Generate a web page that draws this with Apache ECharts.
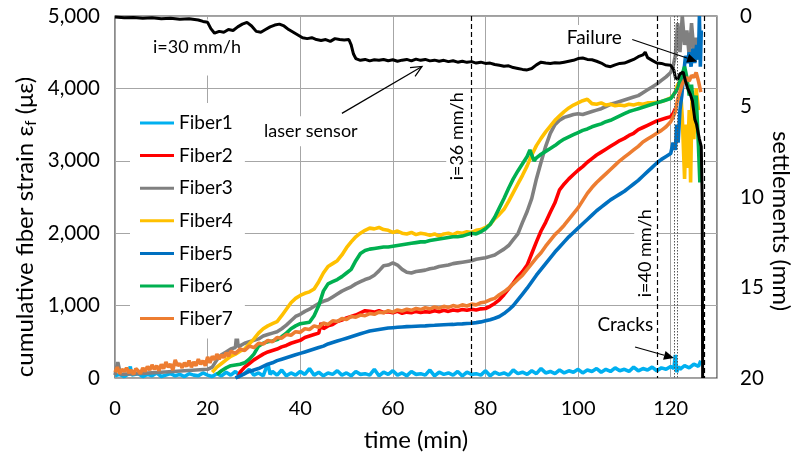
<!DOCTYPE html>
<html>
<head>
<meta charset="utf-8">
<script src="https://cdn.jsdelivr.net/npm/echarts@6/dist/echarts.min.js"></script>
<style>
  html, body { margin: 0; padding: 0; background: #fff; }
  #chart { width: 796px; height: 457px; }
</style>
</head>
<body>
<div id="chart"></div>
<script>
// ---- series names and colours ----
const fiberNames = ['Fiber1', 'Fiber2', 'Fiber3', 'Fiber4', 'Fiber5', 'Fiber6', 'Fiber7'];
const fiberColors = ['#00B0F0', '#FF0000', '#808080', '#FFC000', '#0070C0', '#00B050', '#ED7D31'];

// ---- axis ticks ----
const timeTicks = [0, 20, 40, 60, 80, 100, 120];
const strainTicks = [0, 1000, 2000, 3000, 4000, 5000];
const settlementTicks = [0, 5, 10, 15, 20];

// ---- cumulative fiber strain [time (min), strain (µε)] ----
const fiber1 = [[0,30],[1,50],[2,20],[3,60],[3.3,160],[3.6,40],[4,30],[5,60],[6,20],[7,50],[8,30],[9,70],[10,20],[11,40],[12,60],[13,30],[14,50],[15,20],[16,60],[17,40],[18,30],[19,70],[20,40],[21,20],[22,60],[23,30],[24,80],[25,40],[26,90],[27,30],[28,60],[29,120],[30,40],[31,70],[32,30],[33,200],[33.5,50],[34,90],[35,40],[36,110],[37,30],[38,70],[39,40],[40,90],[41,50],[42,130],[43,40],[44,80],[45,30],[46,70],[47,50],[48,100],[49,40],[50,70],[51,30],[52,90],[53,50],[54,60],[55,40],[56,120],[57,30],[58,80],[59,50],[60,100],[61,40],[62,70],[63,30],[64,90],[65,50],[66,60],[67,40],[68,110],[69,30],[70,80],[71,50],[72,70],[73,40],[74,90],[75,30],[76,80],[77,50],[78,60],[79,40],[80,100],[81,30],[82,80],[83,50],[84,70],[85,40],[86,110],[87,60],[88,80],[89,50],[90,100],[91,60],[92,130],[93,70],[94,90],[95,60],[96,110],[97,70],[98,100],[99,80],[100,120],[101,70],[102,110],[103,90],[104,130],[105,80],[106,120],[107,90],[108,140],[109,100],[110,120],[111,90],[112,150],[113,100],[114,130],[115,110],[116,150],[117,100],[118,140],[119,120],[120,160],[120.7,130],[121,320],[121.3,80],[121.7,160],[122,120],[123,170],[124,140],[125,190],[126,160],[126.5,240]];

const fiber2 = [[26.5,0],[27,80],[28,150],[29,200],[30,250],[31,290],[32,330],[33,360],[34,380],[35,400],[36,430],[37,450],[38,480],[39,500],[40,520],[41,560],[42,580],[43,600],[44,620],[44.5,760],[45,680],[46,720],[47,740],[48,780],[49,800],[50,830],[51,850],[52,870],[53,900],[54,930],[55,920],[56,910],[57,930],[58,905],[59,915],[60,900],[61,920],[62,895],[63,910],[64,900],[65,920],[66,905],[67,915],[68,910],[69,930],[70,915],[71,935],[72,920],[73,940],[74,930],[75,945],[76,935],[77,950],[78,940],[79,955],[80,960],[81,990],[82,1030],[83,1080],[84,1150],[85,1230],[86,1310],[87,1400],[88,1470],[89,1560],[90,1720],[91,1880],[92,2030],[93,2150],[94,2290],[95,2420],[96,2600],[97,2680],[98,2750],[99,2810],[100,2870],[101,2920],[102,2980],[103,3030],[104,3080],[105,3120],[106,3160],[107,3200],[108,3240],[109,3280],[110,3310],[111,3350],[112,3380],[113,3430],[114,3460],[115,3490],[116,3520],[117,3550],[118,3570],[119,3590],[120,3610],[120.5,3650],[121,3720]];

const fiber3 = [[0,40],[0.6,220],[1.2,50],[5,60],[10,80],[15,100],[20,120],[21,150],[22,250],[23,320],[24,360],[25,400],[26,420],[26.3,620],[26.6,430],[27,450],[28,480],[29,500],[30,520],[31,540],[32,580],[33,600],[34,620],[35,640],[36,680],[37,730],[38,790],[39,850],[40,880],[41,920],[42,950],[43,990],[44,1030],[45,1060],[46,1080],[47,1120],[48,1160],[49,1200],[50,1230],[51,1260],[52,1300],[53,1330],[54,1360],[55,1380],[56,1420],[57,1480],[58,1550],[59,1560],[60,1590],[61,1560],[62,1500],[63,1460],[64,1450],[65,1470],[66,1480],[67,1490],[68,1510],[69,1520],[70,1540],[71,1550],[72,1560],[73,1580],[74,1590],[75,1600],[76,1610],[77,1620],[78,1640],[79,1650],[80,1660],[81,1680],[82,1700],[83,1740],[84,1780],[85,1830],[86,1910],[87,1990],[88,2150],[89,2300],[90,2480],[91,2750],[92,2980],[93,3200],[94,3380],[95,3500],[96,3560],[97,3600],[98,3620],[99,3640],[100,3650],[101,3640],[102,3660],[103,3680],[104,3700],[105,3720],[106,3750],[107,3780],[108,3800],[109,3820],[110,3840],[111,3860],[112,3880],[113,3900],[114,3940],[115,3980],[116,4020],[117,4060],[118,4110],[119,4160],[120,4220],[120.5,4300],[121,4450],[121.5,4900],[122,4500],[122.5,5000],[123,4600],[123.5,4800],[124,4450],[124.5,4900],[125,4500],[125.5,4700],[126,4400]];

const fiber4 = [[21,80],[22,150],[23,200],[24,250],[25,300],[26,330],[27,370],[28,400],[29,470],[30,540],[31,620],[32,680],[33,720],[34,750],[35,780],[36,860],[37,950],[38,1040],[39,1100],[40,1140],[41,1170],[42,1190],[43,1230],[44,1330],[45,1450],[46,1540],[47,1580],[48,1620],[49,1700],[50,1800],[51,1880],[52,1950],[53,2000],[54,2040],[55,2070],[56,2060],[57,2080],[58,2050],[59,2040],[60,2010],[61,2030],[62,2000],[63,1990],[64,2010],[65,1980],[66,2000],[67,1990],[68,1970],[69,1990],[70,1960],[71,1990],[72,2000],[73,1980],[74,2010],[75,2000],[76,2020],[77,2010],[78,2040],[79,2050],[80,2080],[81,2120],[82,2200],[83,2260],[84,2330],[85,2440],[86,2560],[87,2680],[88,2800],[89,2930],[90,3080],[91,3210],[92,3310],[93,3400],[94,3480],[95,3560],[96,3620],[97,3680],[98,3730],[99,3770],[100,3800],[101,3830],[102,3850],[103,3790],[104,3780],[105,3800],[106,3770],[107,3780],[108,3760],[109,3770],[110,3760],[111,3780],[112,3770],[113,3790],[114,3780],[115,3800],[116,3800],[117,3810],[118,3820],[119,3840],[120,3870],[120.5,3900],[121,3950],[121.5,4050],[122,4100],[122.5,3600],[123,2750],[123.3,3500],[123.6,2900],[124,3700],[124.3,2700],[124.6,3900],[125,3300],[125.5,4000],[126,3700]];

const fiber5 = [[26,0],[27,30],[28,60],[29,90],[30,110],[31,130],[32,160],[33,190],[34,210],[35,240],[36,260],[37,280],[38,300],[39,320],[40,340],[41,360],[42,380],[43,400],[44,420],[45,440],[46,470],[47,490],[48,510],[49,530],[50,550],[51,570],[52,590],[53,610],[54,630],[55,650],[56,660],[57,670],[58,680],[59,690],[60,695],[61,700],[62,705],[63,710],[64,712],[65,715],[66,718],[67,720],[68,725],[69,728],[70,732],[71,735],[72,738],[73,740],[74,745],[75,748],[76,752],[77,756],[78,765],[79,775],[80,790],[81,805],[82,825],[83,850],[84,890],[85,940],[86,1000],[87,1080],[88,1160],[89,1240],[90,1330],[91,1420],[92,1500],[93,1580],[94,1660],[95,1740],[96,1810],[97,1880],[98,1950],[99,2010],[100,2070],[101,2130],[102,2190],[103,2250],[104,2310],[105,2360],[106,2410],[107,2460],[108,2500],[109,2540],[110,2580],[111,2630],[112,2680],[113,2730],[114,2790],[115,2850],[116,2910],[117,2970],[118,3020],[119,3060],[120,3100],[120.5,3250],[121,3150],[121.3,3500],[121.6,3250],[122,3700],[122.4,3900],[122.8,4200],[123.2,4450],[123.6,4350],[124,4500],[124.4,4300],[124.8,4550],[125.2,4350],[125.6,4600],[126,4400],[126.2,5000],[126.4,4300],[126.6,4800]];

const fiber6 = [[22,50],[23,100],[24,140],[25,170],[26,180],[27,190],[28,210],[29,260],[30,330],[31,440],[32,480],[33,500],[34,510],[35,530],[36,570],[37,620],[38,680],[39,720],[40,750],[41,760],[42,770],[43,860],[44,1000],[45,1200],[46,1300],[47,1330],[48,1360],[49,1400],[50,1450],[51,1500],[52,1620],[53,1720],[54,1760],[55,1780],[56,1790],[57,1800],[58,1810],[59,1810],[60,1820],[61,1830],[62,1840],[63,1850],[64,1860],[65,1870],[66,1880],[67,1880],[68,1900],[69,1910],[70,1920],[71,1930],[72,1940],[73,1950],[74,1950],[75,1960],[76,1980],[77,2000],[78,1990],[79,2020],[80,2060],[81,2120],[82,2220],[83,2350],[84,2480],[85,2620],[86,2750],[87,2860],[88,2960],[89,3060],[89.6,3150],[90,3080],[90.5,3000],[91,3040],[92,3090],[93,3130],[94,3170],[95,3210],[96,3260],[97,3300],[98,3330],[99,3360],[100,3390],[101,3420],[102,3440],[103,3470],[104,3490],[105,3510],[106,3540],[107,3560],[108,3590],[109,3620],[110,3650],[111,3680],[112,3700],[113,3720],[114,3740],[115,3760],[116,3780],[117,3800],[118,3820],[119,3840],[120,3860],[120.5,3900],[121,3950],[121.5,4000],[122,4100],[122.5,4200],[123,4300],[123.5,4150],[124,3900],[124.5,4050],[125,3700],[125.5,3900],[126,3200],[126.3,2700]];

const fiber7 = [[0,80],[0.5,150],[1,60],[1.5,120],[2,90],[2.5,140],[3,70],[3.5,110],[4,50],[4.5,130],[5,100],[5.5,60],[6,140],[6.5,90],[7,160],[7.5,110],[8,180],[8.5,120],[9,170],[9.5,100],[10,190],[10.5,130],[11,220],[11.5,150],[12,190],[12.5,110],[13,250],[13.5,170],[14,200],[14.5,140],[15,210],[15.5,160],[16,240],[16.5,150],[17,220],[17.5,170],[18,260],[18.5,190],[19,240],[19.5,170],[20,290],[20.5,210],[21,300],[21.5,250],[22,330],[22.5,260],[23,320],[23.5,280],[24,350],[24.5,300],[25,370],[26,340],[27,400],[28,380],[29,440],[30,420],[31,480],[32,470],[33,520],[34,500],[35,560],[36,550],[37,600],[38,590],[39,640],[40,630],[41,680],[42,670],[43,720],[44,700],[45,760],[46,740],[47,790],[48,780],[49,820],[50,810],[51,850],[52,840],[53,870],[54,860],[55,890],[56,880],[57,910],[58,900],[59,930],[60,910],[61,940],[62,925],[63,950],[64,935],[65,960],[66,945],[67,970],[68,955],[69,980],[70,965],[71,990],[72,975],[73,1000],[74,985],[75,1010],[76,995],[77,1020],[78,1010],[79,1040],[80,1050],[81,1080],[82,1100],[83,1150],[84,1190],[85,1240],[86,1300],[87,1360],[88,1420],[89,1500],[90,1580],[91,1660],[92,1730],[93,1820],[94,1900],[95,1980],[96,2040],[97,2110],[98,2190],[99,2270],[100,2350],[101,2450],[102,2550],[103,2630],[104,2700],[105,2760],[106,2820],[107,2880],[108,2940],[109,3000],[110,3050],[111,3100],[112,3150],[113,3200],[114,3260],[115,3300],[116,3340],[117,3380],[118,3420],[119,3470],[120,3540],[120.5,3600],[121,3680],[121.5,3850],[122,3950],[122.5,4060],[123,4120],[123.5,4150],[124,4100],[124.5,4180],[125,4150],[125.5,4220],[126,4100],[126.5,3950]];

// ---- laser sensor settlement [time (min), settlement (mm)] ----
const laserSensor = [[0,0.05],[2,0.1],[4,0.08],[6,0.12],[8,0.1],[10,0.15],[12,0.12],[14,0.18],[16,0.15],[18,0.22],[19,0.3],[20,0.35],[20.7,0.7],[21.5,0.95],[22.5,0.85],[23.5,0.9],[24.5,0.75],[25.5,0.8],[26.5,0.6],[27.5,0.45],[28.5,0.35],[29.5,0.55],[30.5,0.85],[31.5,0.9],[32.5,0.75],[33.5,0.6],[34.5,0.5],[35.5,0.45],[36.5,0.55],[37.5,0.75],[38.5,0.9],[39.5,1.05],[40.5,1.2],[41.5,1.25],[42.5,1.2],[43.5,1.3],[44.5,1.35],[45.5,1.3],[46.5,1.4],[47.5,1.25],[48.5,1.3],[49.5,1.32],[50.5,1.3],[51,1.6],[51.5,2.1],[52,2.35],[53,2.45],[54,2.4],[55,2.48],[56,2.42],[57,2.45],[58,2.4],[59,2.47],[60,2.42],[61,2.5],[62,2.44],[63,2.4],[64,2.48],[65,2.38],[66,2.45],[67,2.4],[68,2.48],[69,2.44],[70,2.5],[71,2.45],[72,2.52],[73,2.47],[74,2.55],[75,2.5],[76,2.56],[77,2.52],[78,2.6],[79,2.55],[80,2.62],[81,2.6],[82,2.68],[83,2.72],[84,2.78],[85,2.75],[86,2.85],[87,2.9],[88,2.95],[89,2.98],[90,2.9],[91,2.7],[92,2.55],[93,2.6],[94,2.62],[95,2.58],[96,2.6],[97,2.55],[98,2.5],[99,2.45],[100,2.35],[101,2.32],[102,2.4],[103,2.42],[104,2.5],[105,2.6],[106,2.75],[107,2.8],[108,2.7],[109,2.62],[110,2.6],[111,2.5],[112,2.4],[113,2.25],[114,2.15],[114.5,2.0],[115,2.3],[116,2.45],[117,2.6],[118,2.62],[119,2.7],[120,2.72],[120.7,3.0],[121,3.4],[121.5,3.5],[122,3.2],[122.7,3.1],[123.2,3.6],[123.6,3.95],[124.2,4.3],[124.7,4.7],[125.2,5.7],[125.6,6.0],[126.2,6.8],[126.6,7.2],[126.8,10],[126.9,20]];

// ---- loading-rate changes and crack / failure instants (min) ----
const rateChange36 = 77;
const rateChange40 = 117;
const crackTimes = [120.8, 121.5];
const failureTime = 127.3;

const fiberData = [fiber1, fiber2, fiber3, fiber4, fiber5, fiber6, fiber7];
const FONT = 'Lato, "Noto Sans", sans-serif';

const chart = echarts.init(document.getElementById('chart'), null, { renderer: 'canvas' });

const dashed = { type: [5, 3], color: '#000', width: 1.2 };
const dotted = { type: [1.5, 1.5], color: '#555', width: 1 };

const series = fiberData.map((d, i) => ({
  name: fiberNames[i],
  type: 'line',
  data: d,
  symbol: 'none',
  showSymbol: false,
  lineStyle: { width: 3.6, color: fiberColors[i], join: 'bevel' },
  itemStyle: { color: fiberColors[i] },
  emphasis: { disabled: true }
}));

series.push({
  name: 'laser sensor',
  type: 'line',
  yAxisIndex: 1,
  data: laserSensor,
  symbol: 'none',
  showSymbol: false,
  lineStyle: { width: 3, color: '#000' },
  itemStyle: { color: '#000' },
  emphasis: { disabled: true },
  markLine: {
    silent: true,
    symbol: ['none', 'none'],
    label: { show: false },
    data: [
      { xAxis: rateChange36, lineStyle: dashed },
      { xAxis: rateChange40, lineStyle: dashed },
      { xAxis: crackTimes[0], lineStyle: dotted },
      { xAxis: crackTimes[1], lineStyle: dotted },
      { xAxis: failureTime, lineStyle: dashed }
    ]
  }
});

chart.setOption({
  animation: false,
  backgroundColor: '#fff',
  grid: {
    left: 115, right: 79, top: 16, bottom: 79,
    show: true, borderColor: '#404040', borderWidth: 1.2
  },
  legend: {
    data: fiberNames,
    orient: 'vertical',
    left: 130, top: 103,
    padding: [10, 12, 10, 10],
    backgroundColor: '#fff',
    icon: 'rect',
    itemWidth: 34, itemHeight: 3,
    itemGap: 12.6,
    textStyle: { fontFamily: FONT, fontSize: 19, color: '#000', lineHeight: 20 }
  },
  xAxis: {
    type: 'value',
    min: 0, max: 130, interval: 20,
    axisLine: { show: false },
    axisTick: { show: false },
    axisLabel: {
      fontFamily: FONT, fontSize: 20, color: '#000', margin: 21,
      showMaxLabel: false,
      formatter: v => (timeTicks.includes(v) ? String(v) : '')
    },
    splitLine: { show: true, lineStyle: { color: '#A6A6A6', width: 1 } }
  },
  yAxis: [
    {
      type: 'value',
      min: 0, max: 5000, interval: 1000,
      axisLine: { show: false },
      axisTick: { show: false },
      axisLabel: {
        fontFamily: FONT, fontSize: 20.5, color: '#000', margin: 15,
        formatter: v => (strainTicks.includes(v) ? v.toLocaleString('en-US') : '')
      },
      splitLine: { show: true, lineStyle: { color: '#A6A6A6', width: 1 } }
    },
    {
      type: 'value',
      min: 0, max: 20, interval: 5, inverse: true,
      axisLine: { show: false },
      axisTick: { show: false },
      axisLabel: {
        fontFamily: FONT, fontSize: 20.5, color: '#000', margin: 23,
        formatter: v => (settlementTicks.includes(v) ? String(v) : '')
      },
      splitLine: { show: false }
    }
  ],
  series: series
});

// ---- annotations placed in data coordinates (time, strain) ----
function px(t, v) {
  return chart.convertToPixel({ xAxisIndex: 0, yAxisIndex: 0 }, [t, v]);
}

function arrow(from, to, filled) {
  const a = px(from[0], from[1]);
  const b = px(to[0], to[1]);
  const dx = b[0] - a[0], dy = b[1] - a[1];
  const len = Math.hypot(dx, dy);
  const ux = dx / len, uy = dy / len;
  const headLen = filled ? 10 : 11, headHalf = filled ? 4.5 : 5;
  const base = [b[0] - ux * headLen, b[1] - uy * headLen];
  const left = [base[0] - uy * headHalf, base[1] + ux * headHalf];
  const right = [base[0] + uy * headHalf, base[1] - ux * headHalf];
  const els = [{
    type: 'line', z: 50, silent: true,
    shape: { x1: a[0], y1: a[1], x2: filled ? base[0] : b[0], y2: filled ? base[1] : b[1] },
    style: { stroke: '#000', lineWidth: 1.2 }
  }];
  if (filled) {
    els.push({ type: 'polygon', z: 50, silent: true, shape: { points: [b, left, right] }, style: { fill: '#000' } });
  } else {
    els.push({ type: 'polyline', z: 50, silent: true, shape: { points: [left, b, right] }, style: { stroke: '#000', lineWidth: 1.2, fill: null } });
  }
  return els;
}

function label(text, t, v, opts) {
  const p = px(t, v);
  return Object.assign({
    type: 'text', x: p[0], y: p[1], z: 1, silent: true,
    style: Object.assign({
      text: text, font: '18px ' + FONT, fill: '#000',
      textAlign: 'center', textVerticalAlign: 'middle',
      backgroundColor: '#fff', padding: [3, 4]
    }, opts && opts.style)
  }, opts && opts.el);
}

const gridRect = chart.getModel().getComponent('grid').coordinateSystem.getRect();
const graphics = [
  label('i=30 mm/h', 17.7, 4566, { style: { padding: [16, 8, 22, 8] } }),
  label('laser sensor', 42.3, 3407, { style: { padding: [6, 3] } }),
  label('Failure', 103.5, 4703, { el: { z: 40 }, style: { font: '19px ' + FONT } }),
  label('Cracks', 110.2, 731, { el: { z: 40 }, style: { font: '19px ' + FONT, padding: [2, 1] } }),
  label('i=36 mm/h', 73.9, 3338, { el: { rotation: Math.PI / 2 }, style: { padding: [2, 3] } }),
  label('i=40 mm/h', 114.5, 1724, { el: { rotation: Math.PI / 2 }, style: { padding: [2, 3] } }),
  ...arrow([49.0, 3655], [66.3, 4303], false),
  ...arrow([111.7, 4676], [125.7, 4372], true),
  ...arrow([112.3, 428], [120.7, 276], true),
  // axis titles
  {
    type: 'text', silent: true,
    x: 25, y: gridRect.y + gridRect.height / 2 + 30, rotation: Math.PI / 2,
    style: {
      text: '{a|cumulative fiber strain ε}{s|f}{a| (με)}',
      textAlign: 'center', textVerticalAlign: 'middle',
      rich: {
        a: { font: '24px ' + FONT, fill: '#000', lineHeight: 28 },
        s: { font: '15px ' + FONT, fill: '#000', lineHeight: 14, verticalAlign: 'bottom' }
      }
    }
  },
  {
    type: 'text', silent: true,
    x: 781, y: gridRect.y + gridRect.height / 2 + 24, rotation: -Math.PI / 2,
    style: {
      text: 'settlements (mm)', font: '24px ' + FONT, fill: '#000',
      textAlign: 'center', textVerticalAlign: 'middle'
    }
  },
  {
    type: 'text', silent: true,
    x: gridRect.x + gridRect.width / 2, y: 440,
    style: {
      text: 'time (min)', font: '24px ' + FONT, fill: '#000',
      textAlign: 'center', textVerticalAlign: 'middle'
    }
  }
];

chart.setOption({ graphic: graphics });
</script>
</body>
</html>
